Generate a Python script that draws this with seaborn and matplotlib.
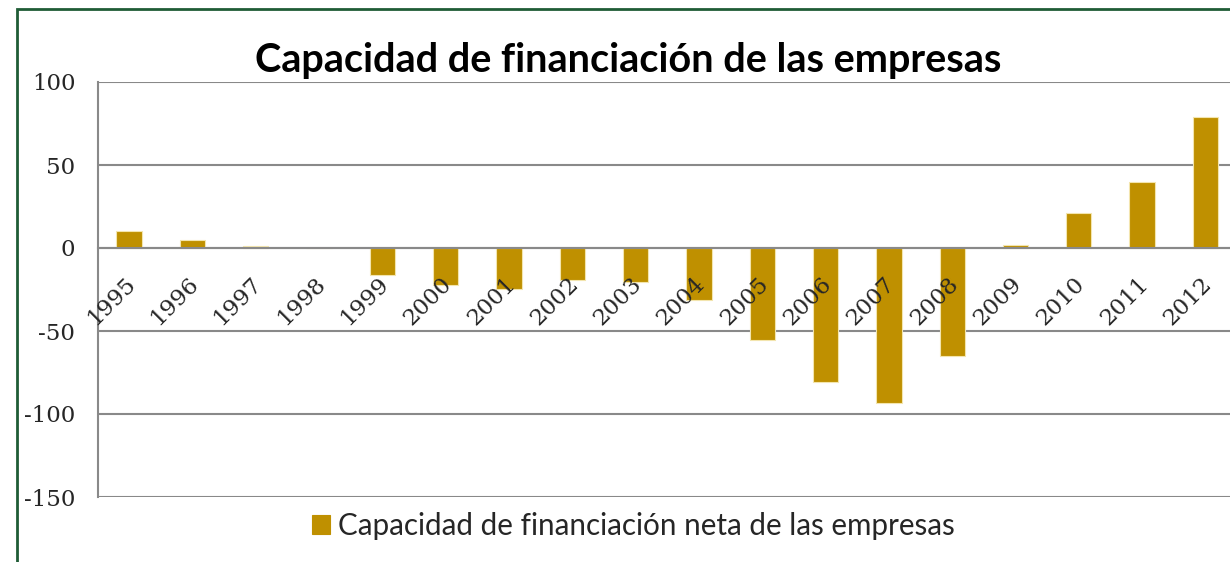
import matplotlib
matplotlib.use("Agg")
import matplotlib.pyplot as plt
import matplotlib.transforms as mtransforms
import numpy as np
import pandas as pd
import seaborn as sns
from matplotlib.patches import Rectangle

years = ["1995", "1996", "1997", "1998", "1999", "2000", "2001", "2002", "2003",
         "2004", "2005", "2006", "2007", "2008", "2009", "2010", "2011", "2012"]
values = [10, 5, 1.5, 0, -16, -22.5, -24.5, -19.5, -20.5,
          -31.5, -55.5, -80.5, -93.5, -65, 2, 21, 40, 79]
y_ticks = [100, 50, 0, -50, -100, -150]

title = "Capacidad de financiación de las empresas"
series_name = "Capacidad de financiación neta de las empresas"

BAR = "#BF9000"
GRID = "#898989"

df = pd.DataFrame({"year": years, "value": values})

sns.set_style("white")
plt.rcParams["font.family"] = ["Lato", "DejaVu Sans"]

fig = plt.figure(figsize=(12.3, 5.62), dpi=100)
ax = fig.add_axes([97.5 / 1230, 65 / 562, 1139.6 / 1230, 415 / 562])

sns.barplot(data=df, x="year", y="value", color=BAR, width=0.4,
            edgecolor="#F3E5AE", linewidth=0.8, saturation=1,
            label=series_name, ax=ax, zorder=1)

ax.set_xlim(-0.5, len(years) - 0.5)
ax.set_ylim(-150, 100)
ax.set_yticks(y_ticks)
ax.set_yticklabels([str(t) for t in y_ticks])
ax.set_xlabel("")
ax.set_ylabel("")

# gridlines under the bars, tick labels on top of them
ax.grid(False)
ax.set_axisbelow(False)
for t in y_ticks:
    ax.axhline(t, color=GRID, linewidth=1.5, zorder=0.5)
for side in ["top", "right"]:
    ax.spines[side].set_visible(False)
ax.spines["left"].set_color(GRID)
ax.spines["left"].set_linewidth(1.5)
ax.spines["bottom"].set_position(("data", 0))
ax.spines["bottom"].set_color(GRID)
ax.spines["bottom"].set_linewidth(1.5)

ax.tick_params(axis="y", length=5, width=1.5, color=GRID, pad=11,
               labelsize=16.5)
ax.set_xticks(np.arange(-0.5, len(years), 1), minor=True)
ax.tick_params(axis="x", which="minor", length=5, width=1.5, color=GRID,
               direction="out")
ax.tick_params(axis="x", which="major", length=0, pad=18, labelsize=16.5)
for lab in ax.get_yticklabels() + ax.get_xticklabels():
    lab.set_fontfamily("DejaVu Serif")
shift = mtransforms.ScaledTranslation(-5 / 100, 0, fig.dpi_scale_trans)
for lab in ax.get_xticklabels():
    lab.set_rotation(45)
    lab.set_ha("right")
    lab.set_va("top")
    lab.set_rotation_mode("anchor")
    lab.set_transform(lab.get_transform() + shift)

fig.text(628 / 1230, 1 - 72 / 562, title, ha="center", va="baseline",
         fontsize=28.5, fontweight="bold", color="black")

leg = ax.legend(loc="center left", bbox_to_anchor=(312 / 1230, 1 - 526 / 562),
                bbox_transform=fig.transFigure, frameon=False, fontsize=21.3,
                handlelength=0.62, handleheight=0.62, handletextpad=0.27,
                borderpad=0, borderaxespad=0)
for h in leg.legend_handles:
    h.set_edgecolor(BAR)

# green frame around the chart area
fig.patches.append(Rectangle((17 / 1230, -0.1), 1.2, 1 - 9 / 562 + 0.1,
                             transform=fig.transFigure, fill=False,
                             edgecolor="#1F5C36", linewidth=2))

fig.savefig("out.png", dpi=100)
